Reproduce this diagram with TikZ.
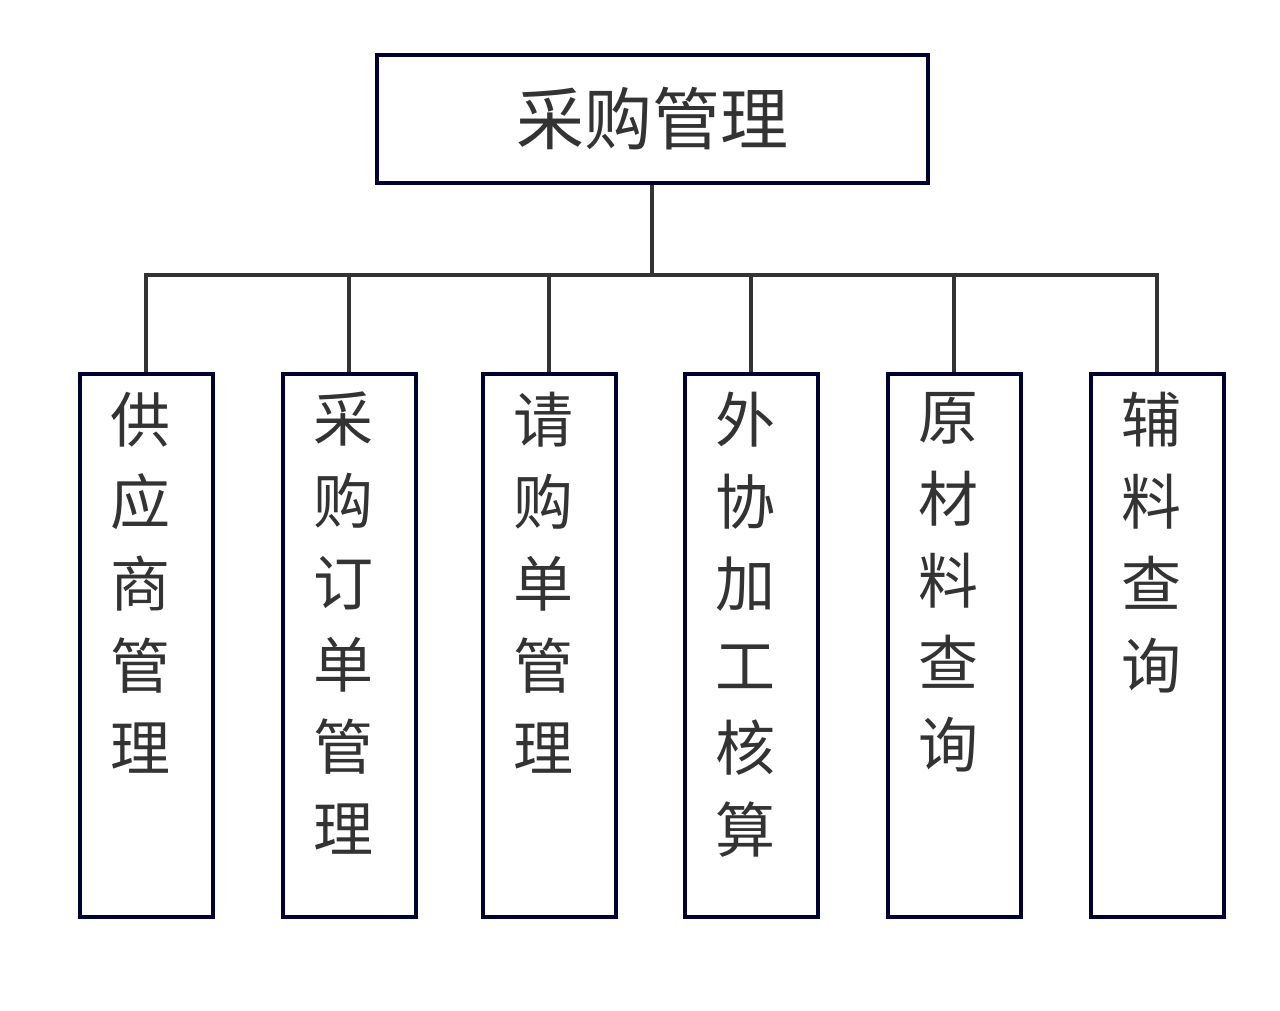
\documentclass[tikz,border=0pt]{standalone}
\usepackage{fontspec}
\newfontfamily\cjk{Noto Sans CJK SC}
\begin{document}
\begin{tikzpicture}[x=1pt,y=-1pt,
  box/.style={draw=black!80!blue,line width=4pt,minimum width=133pt,minimum height=543pt,anchor=north},
  con/.style={draw=black!80,line width=4pt},
  lab/.style={font=\cjk\fontsize{60}{82}\selectfont,text=black!80,align=center,anchor=north,inner sep=0pt}]
\useasboundingbox (0,0) rectangle (1280,1011);
\node[draw=black!80!blue,line width=4pt,minimum width=551pt,minimum height=128pt,font=\cjk\fontsize{68}{80}\selectfont,text=black!80] (root) at (652,119) {采购管理};
\coordinate (j) at (652,275);
\draw[con] (root.south) -- (j);
\foreach \n/\x/\t in {a/146/供\\应\\商\\管\\理, b/349/采\\购\\订\\单\\管\\理, c/549/请\\购\\单\\管\\理, d/751/外\\协\\加\\工\\核\\算, e/954/原\\材\\料\\查\\询, f/1157/辅\\料\\查\\询}{
  \node[box] (\n) at (\x,372) {};
  \node[lab] (\n t) at (\x-6,392) {\t};
  \draw[con] (\n.north) -- (\x,275) -- (j);
}
\end{tikzpicture}
\end{document}
